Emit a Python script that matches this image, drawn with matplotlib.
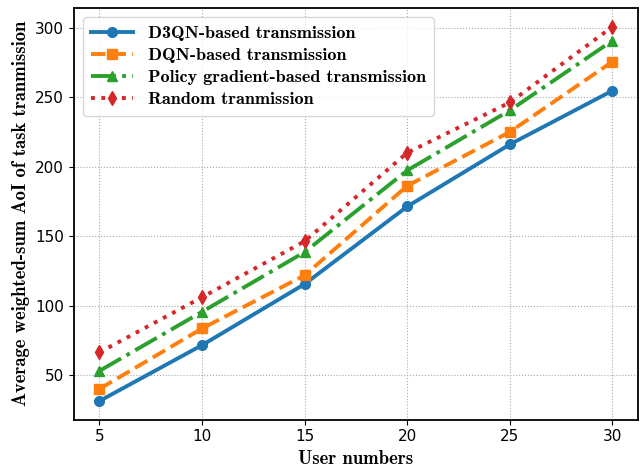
import numpy as np
import matplotlib.pyplot as plt

users = [5, 10, 15, 20, 25, 30]
d3qn = [31.3, 71.5, 115.5, 171.3, 216.0, 254.7]
dqn = [40.0, 83.5, 121.8, 186.2, 225.0, 275.6]
pg = [53.0, 95.5, 138.5, 197.3, 240.5, 290.7]
rand = [66.3, 106.0, 146.3, 210.0, 246.2, 300.7]

lab_font = {'family': ['cmb10', 'Liberation Serif'], 'weight': 'bold', 'size': 13.4}

fig, ax = plt.subplots(figsize=(6.42, 4.70), dpi=100)
ax.plot(users, d3qn, '-', marker='o', color='#1f77b4', lw=2.8, ms=7, label='D3QN-based transmission')
ax.plot(users, dqn, '--', marker='s', color='#ff7f0e', lw=2.8, ms=7, label='DQN-based transmission')
ax.plot(users, pg, '-.', marker='^', color='#2ca02c', lw=2.8, ms=7, label='Policy gradient-based transmission')
ax.plot(users, rand, ':', marker='d', color='#d62728', lw=2.8, ms=7, label='Random tranmission')

ax.set_xticks(users)
ax.tick_params(labelsize=11)
ax.grid(True, linestyle=':', color='#aaaaaa', lw=0.8)
ax.set_xlabel('User numbers', fontdict=lab_font)
ax.set_ylabel('Average weighted-sum AoI of task tranmission', fontdict=lab_font)
ax.legend(loc='upper left', prop={'family': ['cmb10', 'Liberation Serif'], 'weight': 'bold', 'size': 13.1},
          handlelength=2.3, borderpad=0.45, labelspacing=0.35)
for s in ax.spines.values():
    s.set_linewidth(1.3)
fig.subplots_adjust(left=0.115, right=0.994, top=0.983, bottom=0.107)
fig.savefig('out.png')
